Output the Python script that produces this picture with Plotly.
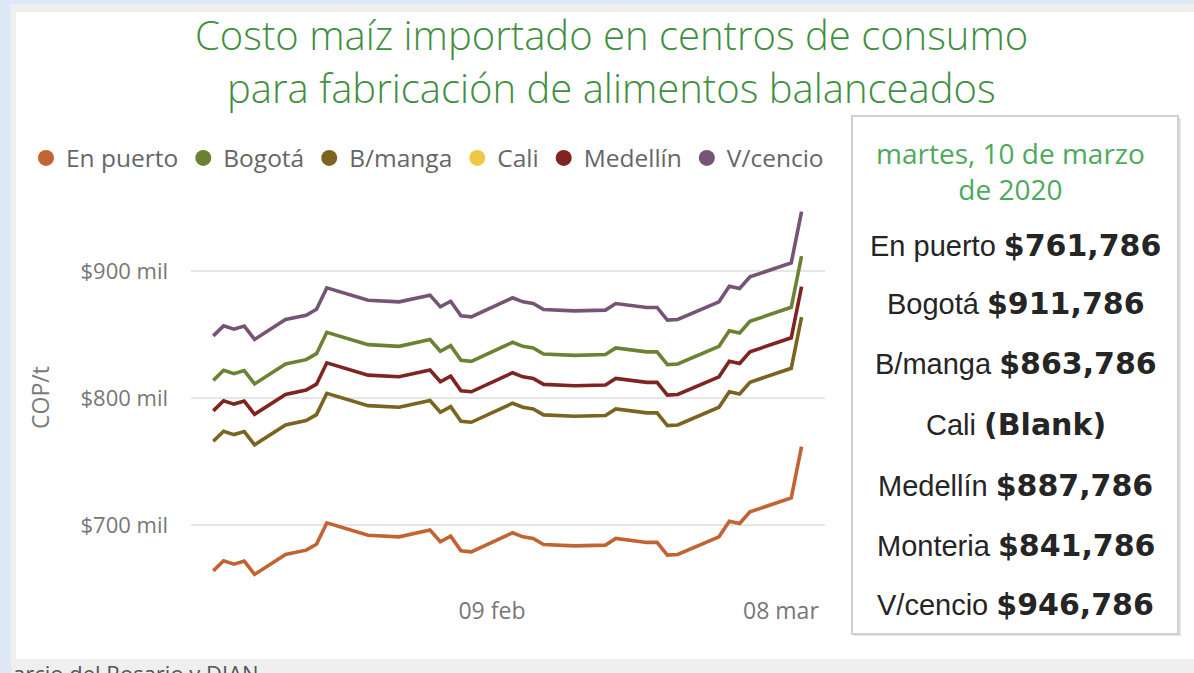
import plotly.graph_objects as go

W, H = 1194, 673

# --- data (miles de COP por tonelada) ---
dates = ["2020-01-13", "2020-01-14", "2020-01-15", "2020-01-16", "2020-01-17",
         "2020-01-20", "2020-01-22", "2020-01-23", "2020-01-24", "2020-01-28",
         "2020-01-31", "2020-02-03", "2020-02-04", "2020-02-05", "2020-02-06",
         "2020-02-07", "2020-02-11", "2020-02-12", "2020-02-13", "2020-02-14",
         "2020-02-17", "2020-02-20", "2020-02-21", "2020-02-24", "2020-02-25",
         "2020-02-26", "2020-02-27", "2020-03-02", "2020-03-03", "2020-03-04",
         "2020-03-05", "2020-03-09", "2020-03-10"]

en_puerto = [664.0, 671.9, 669.3, 671.7, 661.2, 676.9, 680.3, 685.0, 701.8, 692.1,
             690.8, 696.1, 686.9, 691.3, 679.8, 679.0, 694.0, 690.8, 689.5, 684.8,
             683.7, 684.3, 689.5, 686.4, 686.4, 676.4, 676.9, 690.8, 703.1, 701.3,
             710.5, 721.5, 761.8]
bogota = [814.0, 821.9, 819.3, 821.7, 811.2, 826.9, 830.3, 835.0, 851.8, 842.1,
          840.8, 846.1, 836.9, 841.3, 829.8, 829.0, 844.0, 840.8, 839.5, 834.8,
          833.7, 834.3, 839.5, 836.4, 836.4, 826.4, 826.9, 840.8, 853.1, 851.3,
          860.5, 871.5, 911.8]
bmanga = [766.0, 773.9, 771.3, 773.7, 763.2, 778.9, 782.3, 787.0, 803.8, 794.1,
          792.8, 798.1, 788.9, 793.3, 781.8, 781.0, 796.0, 792.8, 791.5, 786.8,
          785.7, 786.3, 791.5, 788.4, 788.4, 778.4, 778.9, 792.8, 805.1, 803.3,
          812.5, 823.5, 863.8]
cali = []
medellin = [790.0, 797.9, 795.3, 797.7, 787.2, 802.9, 806.3, 811.0, 827.8, 818.1,
            816.8, 822.1, 812.9, 817.3, 805.8, 805.0, 820.0, 816.8, 815.5, 810.8,
            809.7, 810.3, 815.5, 812.4, 812.4, 802.4, 802.9, 816.8, 829.1, 827.3,
            836.5, 847.5, 887.8]
vcencio = [849.0, 856.9, 854.3, 856.7, 846.2, 861.9, 865.3, 870.0, 886.8, 877.1,
           875.8, 881.1, 871.9, 876.3, 864.8, 864.0, 879.0, 875.8, 874.5, 869.8,
           868.7, 869.3, 874.5, 871.4, 871.4, 861.4, 861.9, 875.8, 888.1, 886.3,
           895.5, 906.5, 946.8]

series_names = ["En puerto", "Bogotá", "B/manga", "Cali", "Medellín", "V/cencio"]
series_values = [en_puerto, bogota, bmanga, cali, medellin, vcencio]
series_colors = ["#C16432", "#6B8232", "#7A6420", "#F0C846", "#802420", "#765476"]

y_ticks = [700, 800, 900]
y_ticktext = ["$700 mil", "$800 mil", "$900 mil"]
x_ticks = ["2020-02-09", "2020-03-08"]
x_ticktext = ["09 feb", "08 mar"]

# tarjeta lateral: último valor
card_date = "martes, 10 de marzo<br>de 2020"
card_labels = ["En puerto", "Bogotá", "B/manga", "Cali", "Medellín", "Monteria", "V/cencio"]
card_values = [761786, 911786, 863786, None, 887786, 841786, 946786]


def px_x(p):
    return p / W


def px_y(p):
    return 1 - p / H


fig = go.Figure()

for name, vals, color in zip(series_names, series_values, series_colors):
    if vals:
        fig.add_trace(go.Scatter(
            x=dates[:len(vals)], y=vals, mode="lines", name=name,
            line=dict(color=color, width=3.6), showlegend=False,
            legendgroup=name, hoverinfo="skip"
        ))
    # legend entry (circle)
    fig.add_trace(go.Scatter(
        x=[None], y=[None], mode="markers", name=name, legendgroup=name,
        marker=dict(color=color, size=16, symbol="circle")
    ))

# background frame
shapes = [
    dict(type="rect", xref="paper", yref="paper", x0=0, x1=1, y0=0, y1=1,
         fillcolor="#DEE8F7", line_width=0, layer="below"),
    dict(type="rect", xref="paper", yref="paper", x0=px_x(11), x1=1, y0=0, y1=px_y(4),
         fillcolor="#EFEFEF", line_width=0, layer="below"),
    dict(type="rect", xref="paper", yref="paper", x0=px_x(16), x1=1, y0=px_y(659), y1=px_y(12),
         fillcolor="#FFFFFF", line_width=0, layer="below"),
    # card shadow + card
    dict(type="rect", xref="paper", yref="paper", x0=px_x(854), x1=px_x(1181),
         y0=px_y(636), y1=px_y(118), fillcolor="#E2E2E2", line_width=0, layer="below"),
    dict(type="rect", xref="paper", yref="paper", x0=px_x(852), x1=px_x(1178),
         y0=px_y(634), y1=px_y(116), fillcolor="#FFFFFF",
         line=dict(color="#D0D0D0", width=2), layer="below"),
]

title_font = dict(family="Open Sans", size=40, color="#3F8F3F", weight=300)
annotations = [
    dict(text="Costo maíz importado en centros de consumo",
         x=px_x(611), y=px_y(34), xref="paper", yref="paper", showarrow=False,
         xanchor="center", yanchor="middle", font=title_font),
    dict(text="para fabricación de alimentos balanceados",
         x=px_x(611), y=px_y(88), xref="paper", yref="paper", showarrow=False,
         xanchor="center", yanchor="middle", font=title_font),
    dict(text="COP/t", x=px_x(40), y=px_y(398), xref="paper", yref="paper",
         showarrow=False, textangle=-90, xanchor="center", yanchor="middle",
         font=dict(family="Open Sans", size=23, color="#7A7A7A")),
    dict(text=card_date, x=px_x(1011), y=px_y(171), xref="paper", yref="paper",
         showarrow=False, xanchor="center", yanchor="middle",
         font=dict(family="Open Sans", size=28, color="#4CAA5A")),
    dict(text="arcio del Rosario y DIAN", x=px_x(11), y=px_y(673), xref="paper", yref="paper",
         showarrow=False, xanchor="left", yanchor="middle",
         font=dict(family="Open Sans", size=22, color="#555555")),
]

card_y = [245, 304, 363, 424, 485, 545, 604]
for label, val, yy in zip(card_labels, card_values, card_y):
    value_txt = "(Blank)" if val is None else f"${val:,}"
    annotations.append(dict(
        text=f"{label} <span style='font-family:DejaVu Sans;font-weight:bold;font-size:30px'>{value_txt}</span>",
        x=px_x(1016), y=px_y(yy), xref="paper", yref="paper", showarrow=False,
        xanchor="center", yanchor="middle",
        font=dict(family="Liberation Sans", size=29, color="#252525")))

fig.update_layout(
    width=W, height=H,
    margin=dict(l=0, r=0, t=0, b=0),
    paper_bgcolor="#DEE8F7",
    plot_bgcolor="rgba(0,0,0,0)",
    font=dict(family="Open Sans", color="#777777"),
    showlegend=True,
    legend=dict(orientation="h", x=px_x(26), y=px_y(158), xanchor="left", yanchor="middle",
                font=dict(family="Open Sans", size=24.5, color="#666666"),
                bgcolor="rgba(0,0,0,0)", itemclick=False),
    xaxis=dict(type="date", domain=[px_x(191), px_x(825)],
               range=["2020-01-10 20:10", "2020-03-12 06:30"],
               tickvals=x_ticks, ticktext=x_ticktext, showgrid=False, zeroline=False,
               showline=False, ticks="", automargin=False,
               tickfont=dict(size=23, color="#777777")),
    yaxis=dict(domain=[1 - 595 / H, 1 - 200 / H], range=[645, 956],
               tickvals=y_ticks, ticktext=y_ticktext, showgrid=True,
               gridcolor="#E6E6E6", gridwidth=2, zeroline=False, showline=False,
               ticks="", ticklabelstandoff=22, automargin=False,
               tickfont=dict(size=22, color="#777777")),
    shapes=shapes,
    annotations=annotations,
)

fig.write_html("out.html", config={"displayModeBar": False},
               post_script="document.body.style.margin='0px';"
                           "document.documentElement.style.overflow='hidden';")
